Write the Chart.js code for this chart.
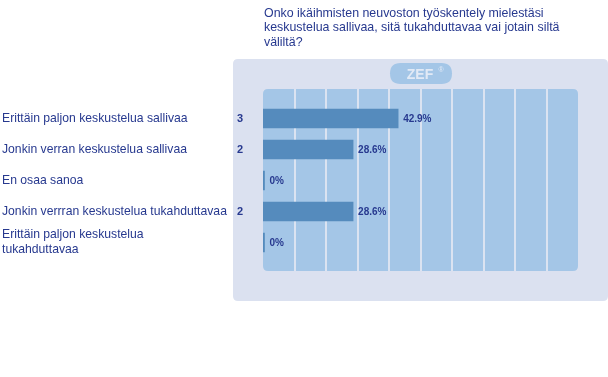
<!DOCTYPE html>
<html>
<head>
<meta charset="utf-8">
<script src="https://cdn.jsdelivr.net/npm/chart.js@4/dist/chart.umd.min.js"></script>
<style>
html,body{margin:0;padding:0;background:#fff;}
#wrap{width:608px;height:377px;position:relative;}
</style>
</head>
<body>
<div id="wrap"><canvas id="c" width="608" height="377"></canvas></div>
<script>
const categories = [
  "Erittäin paljon keskustelua sallivaa",
  "Jonkin verran keskustelua sallivaa",
  "En osaa sanoa",
  "Jonkin verrran keskustelua tukahduttavaa",
  ["Erittäin paljon keskustelua", "tukahduttavaa"]
];
const percentValues = [42.9, 28.6, 0, 28.6, 0];
const countValues = [3, 2, 0, 2, 0];
const percentLabels = ["42.9%", "28.6%", "0%", "28.6%", "0%"];
const titleLines = [
  "Onko ikäihmisten neuvoston työskentely mielestäsi",
  "keskustelua sallivaa, sitä tukahduttavaa vai jotain siltä",
  "väliltä?"
];
const gridTicks = [10, 20, 30, 40, 50, 60, 70, 80, 90];

const TEXT = '#27398f';
const FONT = '"Liberation Sans", Arial, sans-serif';

function roundRect(ctx, x, y, w, h, r) {
  ctx.beginPath();
  ctx.moveTo(x + r, y);
  ctx.lineTo(x + w - r, y);
  ctx.quadraticCurveTo(x + w, y, x + w, y + r);
  ctx.lineTo(x + w, y + h - r);
  ctx.quadraticCurveTo(x + w, y + h, x + w - r, y + h);
  ctx.lineTo(x + r, y + h);
  ctx.quadraticCurveTo(x, y + h, x, y + h - r);
  ctx.lineTo(x, y + r);
  ctx.quadraticCurveTo(x, y, x + r, y);
  ctx.closePath();
}

const decor = {
  id: 'decor',
  beforeDatasetsDraw(chart) {
    const ctx = chart.ctx;
    const xs = chart.scales.x;
    const left = xs.getPixelForValue(0);
    const right = xs.getPixelForValue(100);
    ctx.save();
    // outer panel
    ctx.fillStyle = '#dbe1f0';
    roundRect(ctx, 233, 59, 375, 242, 5);
    ctx.fill();
    // inner plot
    ctx.fillStyle = '#a4c6e7';
    roundRect(ctx, left, 89, right - left, 182, 5);
    ctx.fill();
    // separators
    ctx.fillStyle = '#dbe3f1';
    gridTicks.forEach(v => {
      const px = xs.getPixelForValue(v);
      ctx.fillRect(Math.round(px) - 1, 89, 2, 182);
    });
    // ZEF pill
    ctx.fillStyle = '#a4c6e7';
    roundRect(ctx, 390, 63, 62, 21, 10.5);
    ctx.fill();
    ctx.fillStyle = '#e2eaf6';
    ctx.font = 'bold 14px ' + FONT;
    ctx.textAlign = 'center';
    ctx.textBaseline = 'alphabetic';
    ctx.fillText('ZEF', 420, 79);
    ctx.font = '7px ' + FONT;
    ctx.fillText('®', 441, 72);
    // title
    ctx.fillStyle = TEXT;
    ctx.font = '12.4px ' + FONT;
    ctx.textAlign = 'left';
    titleLines.forEach((t, i) => ctx.fillText(t, 264, 16.5 + i * 14.5));
    ctx.restore();
  },
  afterDatasetsDraw(chart) {
    const ctx = chart.ctx;
    const meta = chart.getDatasetMeta(0);
    ctx.save();
    ctx.fillStyle = TEXT;
    ctx.textBaseline = 'middle';
    meta.data.forEach((bar, i) => {
      ctx.font = 'bold 10px ' + FONT;
      ctx.textAlign = 'left';
      ctx.fillText(percentLabels[i], bar.x + 5, bar.y + 0.5);
      if (countValues[i] > 0) {
        ctx.font = 'bold 11px ' + FONT;
        ctx.textAlign = 'center';
        ctx.fillText(String(countValues[i]), 240, bar.y);
      }
    });
    ctx.restore();
  }
};

new Chart(document.getElementById('c'), {
  type: 'bar',
  data: {
    labels: categories,
    datasets: [{
      data: percentValues,
      backgroundColor: '#558bbd',
      borderWidth: 0,
      barThickness: 19,
      minBarLength: 1.5
    }]
  },
  options: {
    indexAxis: 'y',
    responsive: false,
    animation: false,
    devicePixelRatio: 1,
    layout: { padding: { left: 2, right: 30, top: 103, bottom: 119 } },
    plugins: { legend: { display: false }, tooltip: { enabled: false }, title: { display: false } },
    scales: {
      x: { display: false, min: 0, max: 100 },
      y: {
        grid: { display: false, drawTicks: false },
        border: { display: false },
        afterFit(s) { s.width = 261; },
        ticks: {
          autoSkip: false,
          crossAlign: 'far',
          color: TEXT,
          font: { family: FONT, size: 12.2, lineHeight: 1.25 },
          padding: 0
        }
      }
    }
  },
  plugins: [decor]
});
</script>
</body>
</html>
